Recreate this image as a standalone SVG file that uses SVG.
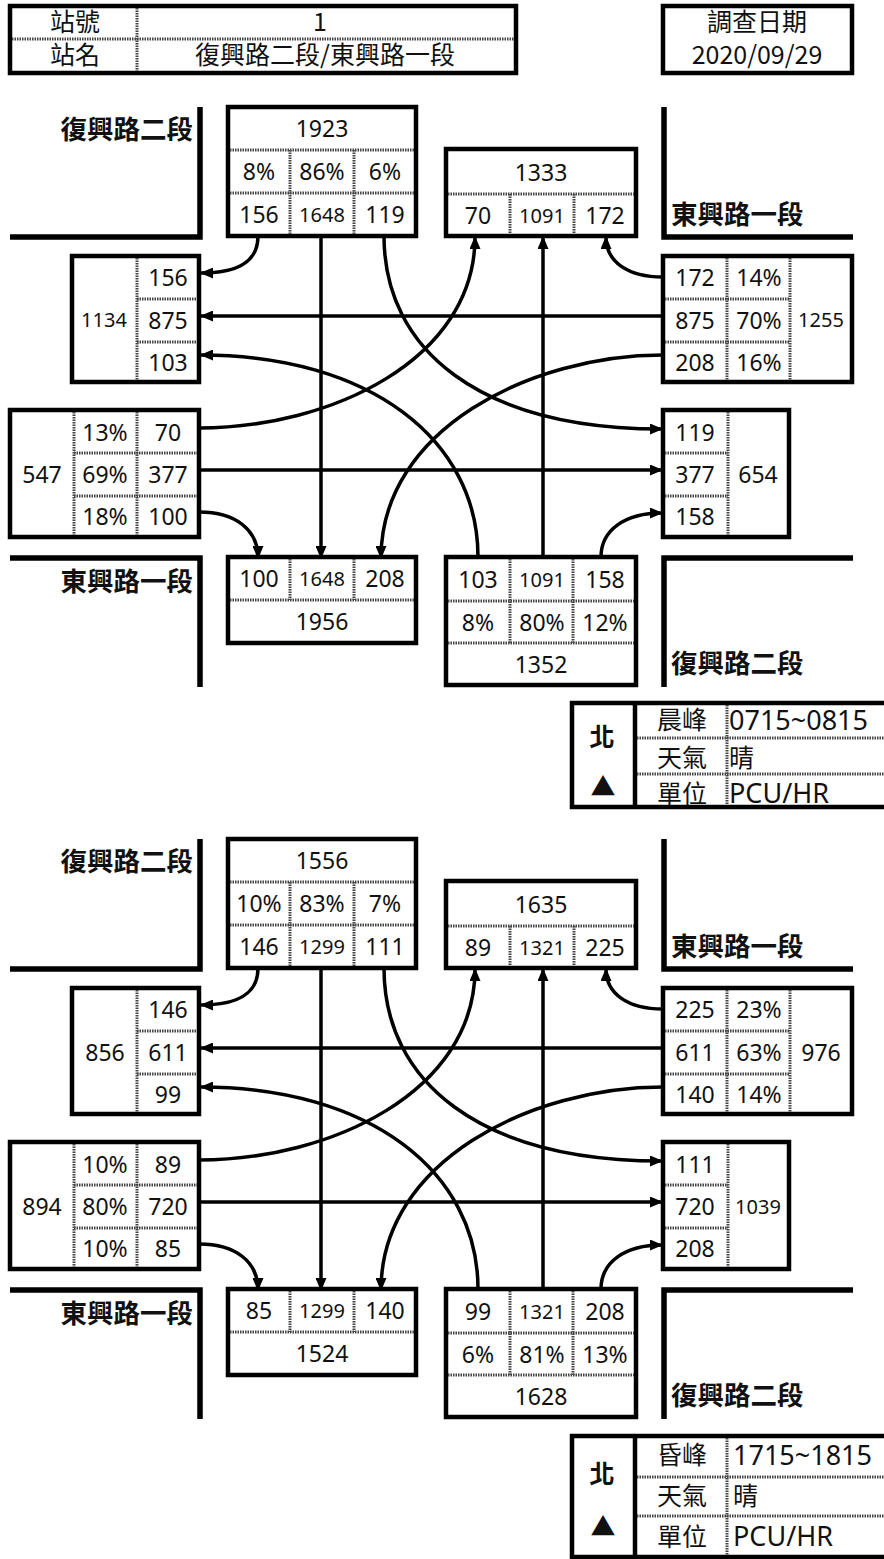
<svg xmlns="http://www.w3.org/2000/svg" width="884" height="1559" viewBox="0 0 884 1559">
<defs>
<style>
.bx{fill:#fff;stroke:#000;stroke-width:4.5}
.dt{stroke:#444;stroke-width:3;stroke-dasharray:1.5,1;fill:none}
.rd{stroke:#000;stroke-width:5.5;fill:none}
.cn{stroke:#000;stroke-width:3.5;fill:none;marker-end:url(#ah)}
.t{font-family:"Noto Sans","Noto Sans CJK TC",sans-serif;font-size:23px;text-anchor:middle;fill:#111}
.s{font-size:20px}
.h{font-family:"Noto Sans CJK TC","Noto Sans",sans-serif;font-size:25px;text-anchor:middle;fill:#111}
.rl{font-family:"Noto Sans CJK TC",sans-serif;font-size:26.5px;font-weight:bold;fill:#111}
.lg{font-family:"Noto Sans CJK TC","Noto Sans",sans-serif;font-size:25px;fill:#111}
.lv{font-family:"Noto Sans","Noto Sans CJK TC",sans-serif;font-size:27px;fill:#111}
</style>
<marker id="ah" markerWidth="13" markerHeight="11" refX="12" refY="5.5" orient="auto" markerUnits="userSpaceOnUse"><path d="M0,0 L13,5.5 L0,11 z" fill="#000"/></marker>
</defs>
<rect width="884" height="1559" fill="#fff"/>

<g id="header">
<rect class="bx" x="10" y="6" width="506" height="67"/>
<line class="dt" x1="12" y1="39" x2="514" y2="39"/>
<line class="dt" x1="137" y1="8" x2="137" y2="71"/>
<text class="h" x="75" y="31">站號</text>
<text class="h" x="320" y="31">1</text>
<text class="h" x="75" y="64">站名</text>
<text class="h" x="325" y="64">復興路二段/東興路一段</text>
</g>
<g id="date">
<rect class="bx" x="663" y="6" width="189" height="67"/>
<text class="h" x="757" y="31">調查日期</text>
<text class="h" x="757" y="64">2020/09/29</text>
</g>

<!-- PANEL 1 -->
<g id="panel1">
<g id="roads1">
<path class="rd" d="M10,237 H200 V107"/>
<path class="rd" d="M664,107 V237 H853"/>
<path class="rd" d="M10,558 H200 V687"/>
<path class="rd" d="M853,558 H664 V687"/>
<text class="rl" x="193" y="139" text-anchor="end">復興路二段</text>
<text class="rl" x="671" y="224">東興路一段</text>
<text class="rl" x="193" y="591" text-anchor="end">東興路一段</text>
<text class="rl" x="671" y="673">復興路二段</text>
</g>
<g id="connectors1">
<path class="cn" d="M258,236 C258,262 238,273 201,273"/>
<path class="cn" d="M321,236 V558"/>
<path class="cn" d="M384,236 C384,350 480,429 662,429"/>
<path class="cn" d="M663,277 C628,277 606,262 606,237"/>
<path class="cn" d="M663,316 H201"/>
<path class="cn" d="M663,355 C530,355 381,430 381,558"/>
<path class="cn" d="M199,428 C330,428 475,360 475,237"/>
<path class="cn" d="M199,470 H662"/>
<path class="cn" d="M199,512 C236,512 258,530 258,558"/>
<path class="cn" d="M478,557 C478,440 370,355 201,355"/>
<path class="cn" d="M543,557 V237"/>
<path class="cn" d="M601,557 C601,530 625,513 662,513"/>
</g>
<g id="n-approach1">
<rect class="bx" x="228" y="107" width="188" height="129"/>
<line class="dt" x1="230" y1="150" x2="414" y2="150"/>
<line class="dt" x1="230" y1="193" x2="414" y2="193"/>
<line class="dt" x1="290" y1="150" x2="290" y2="234"/>
<line class="dt" x1="354" y1="150" x2="354" y2="234"/>
<text class="t" x="322" y="137">1923</text>
<text class="t" x="259" y="180">8%</text><text class="t" x="322" y="180">86%</text><text class="t" x="385" y="180">6%</text>
<text class="t" x="259" y="223">156</text><text class="t s" x="322" y="222">1648</text><text class="t" x="385" y="223">119</text>
</g>
<g id="n-exit1">
<rect class="bx" x="446" y="149" width="190" height="87"/>
<line class="dt" x1="448" y1="194" x2="634" y2="194"/>
<line class="dt" x1="510" y1="194" x2="510" y2="234"/>
<line class="dt" x1="574" y1="194" x2="574" y2="234"/>
<text class="t" x="541" y="181">1333</text>
<text class="t" x="478" y="224">70</text><text class="t s" x="542" y="223">1091</text><text class="t" x="605" y="224">172</text>
</g>
<g id="w-exit1">
<rect class="bx" x="72" y="256" width="127" height="126"/>
<line class="dt" x1="137" y1="258" x2="137" y2="380"/>
<line class="dt" x1="137" y1="299" x2="197" y2="299"/>
<line class="dt" x1="137" y1="342" x2="197" y2="342"/>
<text class="t s" x="104" y="327">1134</text>
<text class="t" x="168" y="286">156</text><text class="t" x="168" y="329">875</text><text class="t" x="168" y="371">103</text>
</g>
<g id="e-approach1">
<rect class="bx" x="663" y="256" width="189" height="126"/>
<line class="dt" x1="727" y1="258" x2="727" y2="380"/>
<line class="dt" x1="790" y1="258" x2="790" y2="380"/>
<line class="dt" x1="665" y1="299" x2="790" y2="299"/>
<line class="dt" x1="665" y1="342" x2="790" y2="342"/>
<text class="t" x="695" y="286">172</text><text class="t" x="759" y="286">14%</text>
<text class="t" x="695" y="329">875</text><text class="t" x="759" y="329">70%</text>
<text class="t" x="695" y="371">208</text><text class="t" x="759" y="371">16%</text>
<text class="t s" x="821" y="327">1255</text>
</g>
<g id="w-approach1">
<rect class="bx" x="10" y="410" width="189" height="127"/>
<line class="dt" x1="74" y1="412" x2="74" y2="535"/>
<line class="dt" x1="137" y1="412" x2="137" y2="535"/>
<line class="dt" x1="74" y1="453" x2="197" y2="453"/>
<line class="dt" x1="74" y1="496" x2="197" y2="496"/>
<text class="t" x="42" y="483">547</text>
<text class="t" x="105" y="441">13%</text><text class="t" x="168" y="441">70</text>
<text class="t" x="105" y="483">69%</text><text class="t" x="168" y="483">377</text>
<text class="t" x="105" y="525">18%</text><text class="t" x="168" y="525">100</text>
</g>
<g id="e-exit1">
<rect class="bx" x="663" y="410" width="126" height="127"/>
<line class="dt" x1="728" y1="412" x2="728" y2="535"/>
<line class="dt" x1="665" y1="453" x2="728" y2="453"/>
<line class="dt" x1="665" y1="496" x2="728" y2="496"/>
<text class="t" x="695" y="441">119</text><text class="t" x="695" y="483">377</text><text class="t" x="695" y="525">158</text>
<text class="t" x="758" y="483">654</text>
</g>
<g id="s-exit1">
<rect class="bx" x="228" y="557" width="188" height="86"/>
<line class="dt" x1="290" y1="559" x2="290" y2="600"/>
<line class="dt" x1="354" y1="559" x2="354" y2="600"/>
<line class="dt" x1="230" y1="600" x2="414" y2="600"/>
<text class="t" x="259" y="587">100</text><text class="t s" x="322" y="586">1648</text><text class="t" x="385" y="587">208</text>
<text class="t" x="322" y="630">1956</text>
</g>
<g id="s-approach1">
<rect class="bx" x="446" y="557" width="190" height="128"/>
<line class="dt" x1="510" y1="559" x2="510" y2="643"/>
<line class="dt" x1="573" y1="559" x2="573" y2="643"/>
<line class="dt" x1="448" y1="601" x2="634" y2="601"/>
<line class="dt" x1="448" y1="643" x2="634" y2="643"/>
<text class="t" x="478" y="588">103</text><text class="t s" x="542" y="587">1091</text><text class="t" x="605" y="588">158</text>
<text class="t" x="478" y="631">8%</text><text class="t" x="542" y="631">80%</text><text class="t" x="605" y="631">12%</text>
<text class="t" x="541" y="673">1352</text>
</g>
</g>

<g id="legend1">
<rect class="bx" x="572" y="703" width="316" height="104"/>
<line x1="635" y1="703" x2="635" y2="807" stroke="#000" stroke-width="4.5"/>
<line class="dt" x1="727" y1="705" x2="727" y2="805"/>
<line class="dt" x1="637" y1="738" x2="884" y2="738"/>
<line class="dt" x1="637" y1="774" x2="884" y2="774"/>
<text class="lg" x="602" y="746" text-anchor="middle" font-weight="bold" font-size="30">北</text>
<text class="lg" x="603" y="796" text-anchor="middle" font-size="25">▲</text>
<text class="lg" x="682" y="729" text-anchor="middle">晨峰</text>
<text class="lv" x="729" y="730">0715~0815</text>
<text class="lg" x="682" y="767" text-anchor="middle">天氣</text>
<text class="lg" x="729" y="767">晴</text>
<text class="lg" x="682" y="803" text-anchor="middle">單位</text>
<text class="lv" x="729" y="803">PCU/HR</text>
</g>

<!-- PANEL 2 -->
<g id="panel2" transform="translate(0,732)">
<g id="roads2">
<path class="rd" d="M10,237 H200 V107"/>
<path class="rd" d="M664,107 V237 H853"/>
<path class="rd" d="M10,558 H200 V687"/>
<path class="rd" d="M853,558 H664 V687"/>
<text class="rl" x="193" y="139" text-anchor="end">復興路二段</text>
<text class="rl" x="671" y="224">東興路一段</text>
<text class="rl" x="193" y="591" text-anchor="end">東興路一段</text>
<text class="rl" x="671" y="673">復興路二段</text>
</g>
<g id="connectors2">
<path class="cn" d="M258,236 C258,262 238,273 201,273"/>
<path class="cn" d="M321,236 V558"/>
<path class="cn" d="M384,236 C384,350 480,429 662,429"/>
<path class="cn" d="M663,277 C628,277 606,262 606,237"/>
<path class="cn" d="M663,316 H201"/>
<path class="cn" d="M663,355 C530,355 381,430 381,558"/>
<path class="cn" d="M199,428 C330,428 475,360 475,237"/>
<path class="cn" d="M199,470 H662"/>
<path class="cn" d="M199,512 C236,512 258,530 258,558"/>
<path class="cn" d="M478,557 C478,440 370,355 201,355"/>
<path class="cn" d="M543,557 V237"/>
<path class="cn" d="M601,557 C601,530 625,513 662,513"/>
</g>
<g id="n-approach2">
<rect class="bx" x="228" y="107" width="188" height="129"/>
<line class="dt" x1="230" y1="150" x2="414" y2="150"/>
<line class="dt" x1="230" y1="193" x2="414" y2="193"/>
<line class="dt" x1="290" y1="150" x2="290" y2="234"/>
<line class="dt" x1="354" y1="150" x2="354" y2="234"/>
<text class="t" x="322" y="137">1556</text>
<text class="t" x="259" y="180">10%</text><text class="t" x="322" y="180">83%</text><text class="t" x="385" y="180">7%</text>
<text class="t" x="259" y="223">146</text><text class="t s" x="322" y="222">1299</text><text class="t" x="385" y="223">111</text>
</g>
<g id="n-exit2">
<rect class="bx" x="446" y="149" width="190" height="87"/>
<line class="dt" x1="448" y1="194" x2="634" y2="194"/>
<line class="dt" x1="510" y1="194" x2="510" y2="234"/>
<line class="dt" x1="574" y1="194" x2="574" y2="234"/>
<text class="t" x="541" y="181">1635</text>
<text class="t" x="478" y="224">89</text><text class="t s" x="542" y="223">1321</text><text class="t" x="605" y="224">225</text>
</g>
<g id="w-exit2">
<rect class="bx" x="72" y="256" width="127" height="126"/>
<line class="dt" x1="137" y1="258" x2="137" y2="380"/>
<line class="dt" x1="137" y1="299" x2="197" y2="299"/>
<line class="dt" x1="137" y1="342" x2="197" y2="342"/>
<text class="t" x="105" y="329">856</text>
<text class="t" x="168" y="286">146</text><text class="t" x="168" y="329">611</text><text class="t" x="168" y="371">99</text>
</g>
<g id="e-approach2">
<rect class="bx" x="663" y="256" width="189" height="126"/>
<line class="dt" x1="727" y1="258" x2="727" y2="380"/>
<line class="dt" x1="790" y1="258" x2="790" y2="380"/>
<line class="dt" x1="665" y1="299" x2="790" y2="299"/>
<line class="dt" x1="665" y1="342" x2="790" y2="342"/>
<text class="t" x="695" y="286">225</text><text class="t" x="759" y="286">23%</text>
<text class="t" x="695" y="329">611</text><text class="t" x="759" y="329">63%</text>
<text class="t" x="695" y="371">140</text><text class="t" x="759" y="371">14%</text>
<text class="t" x="821" y="329">976</text>
</g>
<g id="w-approach2">
<rect class="bx" x="10" y="410" width="189" height="127"/>
<line class="dt" x1="74" y1="412" x2="74" y2="535"/>
<line class="dt" x1="137" y1="412" x2="137" y2="535"/>
<line class="dt" x1="74" y1="453" x2="197" y2="453"/>
<line class="dt" x1="74" y1="496" x2="197" y2="496"/>
<text class="t" x="42" y="483">894</text>
<text class="t" x="105" y="441">10%</text><text class="t" x="168" y="441">89</text>
<text class="t" x="105" y="483">80%</text><text class="t" x="168" y="483">720</text>
<text class="t" x="105" y="525">10%</text><text class="t" x="168" y="525">85</text>
</g>
<g id="e-exit2">
<rect class="bx" x="663" y="410" width="126" height="127"/>
<line class="dt" x1="728" y1="412" x2="728" y2="535"/>
<line class="dt" x1="665" y1="453" x2="728" y2="453"/>
<line class="dt" x1="665" y1="496" x2="728" y2="496"/>
<text class="t" x="695" y="441">111</text><text class="t" x="695" y="483">720</text><text class="t" x="695" y="525">208</text>
<text class="t s" x="758" y="482">1039</text>
</g>
<g id="s-exit2">
<rect class="bx" x="228" y="557" width="188" height="86"/>
<line class="dt" x1="290" y1="559" x2="290" y2="600"/>
<line class="dt" x1="354" y1="559" x2="354" y2="600"/>
<line class="dt" x1="230" y1="600" x2="414" y2="600"/>
<text class="t" x="259" y="587">85</text><text class="t s" x="322" y="586">1299</text><text class="t" x="385" y="587">140</text>
<text class="t" x="322" y="630">1524</text>
</g>
<g id="s-approach2">
<rect class="bx" x="446" y="557" width="190" height="128"/>
<line class="dt" x1="510" y1="559" x2="510" y2="643"/>
<line class="dt" x1="573" y1="559" x2="573" y2="643"/>
<line class="dt" x1="448" y1="601" x2="634" y2="601"/>
<line class="dt" x1="448" y1="643" x2="634" y2="643"/>
<text class="t" x="478" y="588">99</text><text class="t s" x="542" y="587">1321</text><text class="t" x="605" y="588">208</text>
<text class="t" x="478" y="631">6%</text><text class="t" x="542" y="631">81%</text><text class="t" x="605" y="631">13%</text>
<text class="t" x="541" y="673">1628</text>
</g>
</g>

<g id="legend2">
<rect class="bx" x="572" y="1436" width="316" height="121"/>
<line x1="635" y1="1436" x2="635" y2="1557" stroke="#000" stroke-width="4.5"/>
<line class="dt" x1="727" y1="1438" x2="727" y2="1555"/>
<line class="dt" x1="637" y1="1477" x2="884" y2="1477"/>
<line class="dt" x1="637" y1="1516" x2="884" y2="1516"/>
<text class="lg" x="602" y="1483" text-anchor="middle" font-weight="bold" font-size="30">北</text>
<text class="lg" x="603" y="1536" text-anchor="middle" font-size="25">▲</text>
<text class="lg" x="682" y="1464" text-anchor="middle">昏峰</text>
<text class="lv" x="733" y="1465">1715~1815</text>
<text class="lg" x="682" y="1505" text-anchor="middle">天氣</text>
<text class="lg" x="733" y="1505">晴</text>
<text class="lg" x="682" y="1546" text-anchor="middle">單位</text>
<text class="lv" x="733" y="1546">PCU/HR</text>
</g>
</svg>
